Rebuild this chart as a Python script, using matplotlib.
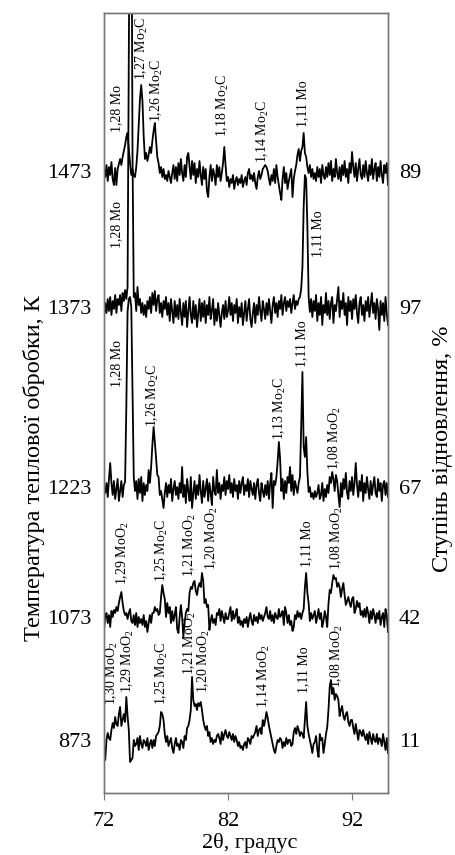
import numpy as np
import matplotlib
matplotlib.use("Agg")
import matplotlib.pyplot as plt

plt.rcParams['font.family'] = ['Liberation Serif', 'DejaVu Serif']
plt.rcParams['mathtext.fontset'] = 'custom'
plt.rcParams['mathtext.rm'] = 'Liberation Serif'

# 2theta grid, step 0.1 deg
theta = np.round(np.arange(72.0, 94.95, 0.1), 1)

# intensities (arb. units), one row = one degree
i_1473 = [
    2, -6, 6, -10, 4, -4, 9, -8, -14, 3,
    -14, 2, 7, 12, 6, 14, 20, 26, 34, 38,
    22, 8, -4, 2, -5, -6, 4, 20, 45, 72,
    86, 70, 35, 12, 18, 10, 16, 24, 18, 30,
    40, 48, 30, 14, 8, -2, 4, -6, 2, -8,
    -4, -10, 0, -6, -12, -2, 6, -8, 4, -10,
    8, -4, 12, -2, -10, 6, -6, 14, 18, 4,
    -8, 10, -4, 8, -12, 2, -6, 10, -4, -14,
    4, -8, 2, -20, -26, -6, 6, -10, 2, -4,
    -14, 6, -6, 4, -10, -2, 8, 24, 6, -10,
    -6, -16, -8, -12, -4, -18, -10, -6, -14, -8,
    -12, -4, -16, -10, -6, -14, -2, 2, -8, -4,
    -10, -2, -12, -18, -6, 0, -8, -4, 2, 4,
    6, 4, 0, -8, -14, -4, -10, 2, -12, 6,
    -6, -14, -22, -29, -8, 4, -12, -2, -18, -10,
    -4, 2, -26, -8, 0, 6, 16, 22, 10, 20,
    24, 38, 18, 14, 4, -2, 6, -6, 2, -8,
    -2, -10, 4, -6, 2, -12, 6, -4, -8, 4,
    -6, 8, -4, 10, -10, 2, -6, 12, -2, -8,
    4, -10, 6, -4, 10, -6, 2, -12, 8, -2,
    19, 4, -6, 8, -10, 2, 12, -4, -8, 6,
    -6, 10, -2, -10, 6, -4, 12, -8, 2, 8,
    -10, 4, -6, 10, -4, -12, 6, -2, 8, -14,
]
i_1373 = [
    -10, 4, -6, 8, -4, 10, -8, 6, -2, 12,
    -6, 8, 2, 12, -4, 14, 6, 17, 8, 20,
    250, 480, 480, 150, 10, 14, -4, 20, 2, 8,
    -6, 4, -8, 2, -10, 6, -2, 10, -6, 14,
    2, 16, -4, 8, 12, -6, 4, -10, 6, -2,
    10, -8, 4, -14, 8, -4, -16, 6, -10, 2,
    -12, 8, -6, -18, 4, -10, 6, -20, -4, 10,
    -8, -16, 6, -12, 2, -20, -6, 8, -14, 4,
    -10, 6, -16, 2, -8, 10, -12, -4, 8, -18,
    -2, -14, 4, -8, -20, -6, 2, -12, 6, -10,
    -4, 10, -8, 4, -14, 2, -6, 8, -16, 0,
    -10, 4, -18, -6, 6, -14, -2, 8, -12, -20,
    -6, 4, -16, 2, -8, 10, -4, -14, 6, -2,
    -12, 4, -8, 8, -4, -16, 2, 10, -6, 4,
    -10, 6, -2, 12, -8, 4, 10, -4, 6, 0,
    8, -6, 4, 12, -2, 6, 2, 8, 10, 18,
    40, 100, 132, 128, 80, 10, -5, 8, -10, 6,
    -4, 12, -14, 4, -8, 10, -18, 2, -6, 14,
    -8, 6, -12, 4, 10, -16, 2, -4, 8, 20,
    -10, 6, -2, 14, -8, 4, -18, 10, -4, 6,
    -12, 8, -2, 12, -6, -16, 4, 10, -8, 2,
    -14, 6, -4, 10, -10, 2, 14, -6, 4, -12,
    8, -2, -23, 6, -8, 4, -14, 10, -6, -18,
]
i_1223 = [
    0, -6, 4, -10, 8, 24, 4, -8, 6, -12,
    -2, 8, -14, -4, 6, -10, 2, 5, 80, 175,
    188, 190, 180, 95, 10, -4, 6, -12, 8, -6,
    10, -14, 4, -8, 2, -4, 17, 4, 20, 42,
    60, 45, 28, 12, 10, -8, -4, -12, -21, -6,
    4, -10, 2, -6, 8, -14, -2, 6, -8, 0,
    -12, 4, -6, 20, -10, 2, -16, 8, -4, -14,
    10, -21, -6, 6, -12, 2, -8, 12, -4, -16,
    6, -10, -2, 8, -14, 4, -6, -18, 10, -4,
    -8, 17, -6, 4, -12, 2, -4, 10, -8, 6,
    -2, 12, -6, 4, -10, 8, -4, 2, -12, 6,
    -6, 4, 10, -8, 2, -4, 8, -10, 6, -2,
    -8, 4, -12, 2, 8, -6, -14, 4, -4, -10,
    2, -8, 6, -12, 4, 14, -21, 6, 2, 10,
    25, 45, 28, -4, 8, -12, 6, -6, 10, 4,
    20, -4, 12, -8, 6, 0, -6, 4, 10, 60,
    115, 40, 30, 50, 15, -5, 0, -10, -6, -12,
    -4, -10, -6, 2, -12, -8, 4, -14, -2, -10,
    2, -6, 10, 4, 15, 8, -4, 12, 6, -8,
    -20, 4, -10, 8, -2, 14, -6, -12, 6, -4,
    10, -8, 4, 24, 2, -10, 6, -4, 12, -14,
    4, -6, 10, -2, -12, 6, -8, 2, 10, -6,
    -10, 8, -4, 4, -14, 2, 6, -8, 4, -10,
]
i_1073 = [
    -13, 0, 4, -6, 2, -10, 6, 0, 7, 4,
    10, 6, 14, 20, 25, 14, 6, 2, 4, -2,
    4, 8, -4, -6, 2, -8, 4, -10, 0, -6,
    -2, -8, 2, -10, -4, -15, -6, 2, -6, 4,
    4, 10, 6, 8, 2, 4, 20, 32, 24, 18,
    0, 14, 4, 10, -6, 6, -4, 2, 10, -12,
    -16, 0, 12, 0, -20, -6, 4, 8, 6, 24,
    30, 28, 34, 36, 26, 22, 30, 34, 30, 44,
    36, 14, 18, 10, 12, -13, -4, 2, -6, -2,
    -8, 4, 2, 8, -4, 6, 0, -6, 4, -2,
    -2, 4, 10, -4, 6, -2, 2, 8, -6, 0,
    -8, -4, -10, -2, -6, 0, -10, -2, 4, -4,
    -8, 2, -4, 0, -6, 4, -2, 2, -4, 0,
    4, 10, 0, -2, 6, -4, 2, -6, 4, 0,
    -2, 8, 0, 2, 6, -8, 10, 4, -6, 2,
    -8, -4, -14, -10, 2, -2, 6, 0, 4, -2,
    4, 8, 30, 44, 24, 14, -4, 4, -2, 2,
    6, -6, 0, 8, -2, 4, -10, -4, 6, 0,
    -10, 13, 27, 24, 34, 42, 38, 39, 30, 34,
    30, 20, 28, 34, 22, 12, 16, 20, 14, 10,
    18, 20, 4, 8, 16, 10, 14, 2, 6, 0,
    8, 0, 10, 4, -6, 6, -2, 8, 2, -6,
    4, -2, 6, -8, 0, 4, -10, 8, 2, -15,
]
i_873 = [
    -7, -20, 0, 7, 2, 0, 10, 17, 12, 23,
    16, 14, 26, 33, 14, 20, 26, 18, 43, 24,
    10, -22, -20, -18, 0, -6, -4, 2, -10, 4,
    -4, -8, 0, -2, -6, 2, -10, -4, 0, -8,
    0, -6, 4, 6, 8, 14, 28, 26, 20, 6,
    -2, 4, -6, -2, 2, -8, -13, -4, 2, -6,
    -4, -10, 0, -2, -8, 4, 0, 12, 14, 20,
    30, 63, 40, 34, 36, 30, 37, 34, 38, 30,
    20, 14, 10, 14, 4, 8, -2, 2, -4, 0,
    -2, 4, 6, 2, -4, 8, 0, 6, 10, 4,
    2, 8, 4, 0, 6, -2, 4, 0, -6, -2,
    -8, -6, -10, -4, -2, -8, 2, 0, -4, 4,
    2, 5, 8, 14, 4, 10, 12, 6, 20, 14,
    20, 28, 22, 14, 8, 2, -4, -10, -13, -6,
    0, -2, 2, 0, -8, -2, -6, 2, -4, 0,
    0, -6, -4, 8, 12, 6, 14, 10, 4, 8,
    6, 2, 20, 38, 14, 6, 0, -6, -13, -4,
    -2, 4, -10, -17, 6, 0, 2, -13, -4, 6,
    13, 30, 53, 60, 46, 52, 40, 46, 44, 40,
    24, 30, 34, 24, 20, 26, 28, 18, 14, 20,
    20, 12, 6, 16, 8, 0, 10, 8, 4, 10,
    4, 0, 6, -4, 8, 2, -4, 6, 0, -2,
    6, -4, 2, 0, -6, 6, -2, -10, 2, -13,
]

temps = ['1473', '1373', '1223', '1073', '873']
degree = ['89', '97', '67', '42', '11']
traces = [i_1473, i_1373, i_1223, i_1073, i_873]
offsets = [622, 486, 306, 176, 53]

# peak labels: text, 2theta, height
peaks = [
    ('1,28 Mo', 73.05, 661), ('1,27 Mo$_\\mathregular{2}$C', 75.06, 713),
    ('1,26 Mo$_\\mathregular{2}$C', 76.25, 671), ('1,18 Mo$_\\mathregular{2}$C', 81.6, 656),
    ('1,14 Mo$_\\mathregular{2}$C', 84.8, 630), ('1,11 Mo', 88.05, 666),
    ('1,28 Mo', 73.05, 545), ('1,11 Mo', 89.2, 536),
    ('1,28 Mo', 73.05, 406), ('1,26 Mo$_\\mathregular{2}$C', 75.95, 366),
    ('1,13 Mo$_\\mathregular{2}$C', 86.2, 353), ('1,11 Mo', 87.95, 426),
    ('1,08 MoO$_\\mathregular{2}$', 90.6, 323),
    ('1,29 MoO$_\\mathregular{2}$', 73.5, 208), ('1,25 Mo$_\\mathregular{2}$C', 76.7, 211),
    ('1,21 MoO$_\\mathregular{2}$', 78.95, 216), ('1,20 MoO$_\\mathregular{2}$', 80.7, 223),
    ('1,11 Mo', 88.35, 226), ('1,08 MoO$_\\mathregular{2}$', 90.8, 223),
    ('1,30 MoO$_\\mathregular{2}$', 72.62, 88), ('1,29 MoO$_\\mathregular{2}$', 73.95, 100),
    ('1,25 Mo$_\\mathregular{2}$C', 76.7, 88), ('1,21 MoO$_\\mathregular{2}$', 78.92, 118),
    ('1,20 MoO$_\\mathregular{2}$', 80.08, 100), ('1,14 MoO$_\\mathregular{2}$', 84.85, 85),
    ('1,11 Mo', 88.1, 100), ('1,08 MoO$_\\mathregular{2}$', 90.8, 105),
]

fig = plt.figure(figsize=(4.56, 8.55), dpi=100)
ax = fig.add_axes([104 / 456, 62 / 855, 284 / 456, 780 / 855])

for vals, off in zip(traces, offsets):
    ax.plot(theta, off + np.array(vals), color='black', lw=1.3)

for txt, x, y in peaks:
    ax.text(x, y, txt, rotation=90, ha='center', va='bottom', fontsize=10,
            clip_on=False)

ax.set_xlim(72, 94.9)
ax.set_ylim(0, 780)
ax.set_xticks([72, 82, 92])
ax.tick_params(axis='x', direction='out', length=5, color='#777777',
               labelsize=16, pad=9)
ax.set_yticks(offsets)
ax.set_yticklabels(temps)
ax.tick_params(axis='y', length=0, labelsize=16, pad=9)

ax2 = ax.twinx()
ax2.set_ylim(0, 780)
ax2.set_yticks(offsets)
ax2.set_yticklabels(degree)
ax2.tick_params(axis='y', length=0, labelsize=16, pad=8)

for a in (ax, ax2):
    for s in a.spines.values():
        s.set_color('#777777')
        s.set_linewidth(1)

fig.text(250 / 456, 1 - 843 / 855, '2θ, градус', ha='center', va='center', fontsize=16)
fig.text(34 / 456, 1 - 468 / 855, 'Температура теплової обробки, К', rotation=90,
         ha='center', va='center', fontsize=17.5)
fig.text(443 / 456, 1 - 449 / 855, 'Ступінь відновлення, %', rotation=90,
         ha='center', va='center', fontsize=17.5)

fig.savefig('out.png', dpi=100)
